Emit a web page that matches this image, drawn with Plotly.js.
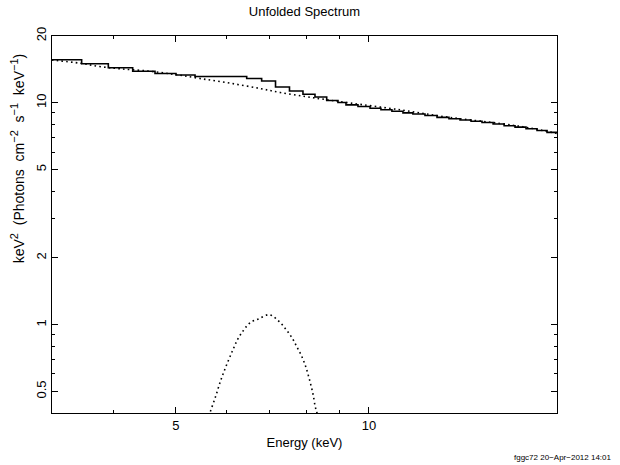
<!DOCTYPE html>
<html>
<head>
<meta charset="utf-8">
<script src="https://cdn.plot.ly/plotly-3.0.1.min.js"></script>
<style>html,body{margin:0;padding:0;background:#fff;}#plot{width:620px;height:465px;}</style>
</head>
<body>
<div id="plot"></div>
<script>
// Data histogram: bin edges (keV) and unfolded values
const dataEdges = [3.203, 3.563, 3.921, 4.280, 4.637, 5.00, 5.354, 5.877, 6.446, 6.802, 7.149, 7.517, 7.890, 8.238, 8.592, 8.947, 9.208, 9.614, 10.04, 10.44, 10.86, 11.30, 11.71, 12.23, 12.77, 13.33, 13.87, 14.43, 15.01, 15.62, 16.25, 16.90, 17.58, 18.29, 18.96, 19.65];
const dataValues = [15.62, 14.99, 14.38, 13.88, 13.55, 13.34, 13.14, 13.14, 12.87, 12.54, 11.78, 11.30, 10.93, 10.62, 10.24, 10.03, 9.79, 9.62, 9.455, 9.30, 9.16, 9.01, 8.90, 8.77, 8.60, 8.47, 8.37, 8.26, 8.15, 8.02, 7.88, 7.77, 7.64, 7.50, 7.36];

// Total model (dotted)
const modelEnergy = [3.20, 3.54, 3.80, 4.09, 4.55, 4.99, 5.45, 6.07, 6.76, 7.27, 7.95, 8.54, 9.34, 11.18, 13.38, 16.01, 17.83, 19.65];
const modelValues = [15.59, 15.08, 14.57, 14.23, 13.88, 13.41, 12.87, 12.26, 11.60, 11.13, 10.68, 10.35, 9.98, 9.30, 8.59, 8.07, 7.70, 7.27];

// Gaussian line component (dotted)
const lineEnergy = [5.60, 5.650, 5.766, 5.870, 5.998, 6.136, 6.240, 6.376, 6.538, 6.737, 6.991, 7.238, 7.422, 7.584, 7.712, 7.843, 7.957, 8.043, 8.120, 8.188, 8.247, 8.288, 8.33];
const lineValues = [0.37, 0.4015, 0.4754, 0.5593, 0.6601, 0.7717, 0.8586, 0.9458, 1.024, 1.064, 1.109, 1.035, 0.9524, 0.8737, 0.7985, 0.7273, 0.6556, 0.5909, 0.5327, 0.4803, 0.4256, 0.4069, 0.37];

const xMajor = [5, 10];
const xMajorText = ['5', '10'];
const xMinor = [4, 6, 7, 8, 9];
const yMajor = [0.5, 1, 2, 5, 10, 20];
const yMajorText = ['0.5', '1', '2', '5', '10', '20'];
const yMinor = [0.6, 0.7, 0.8, 0.9, 3, 4, 6, 7, 8, 9];

const histY = dataValues.concat([dataValues[dataValues.length - 1]]);
const dotStyle = '1.6px,3.2px';

const traces = [
  {x: dataEdges, y: histY, type: 'scatter', mode: 'lines', line: {shape: 'hv', color: '#000', width: 1.6}, hoverinfo: 'skip'},
  {x: modelEnergy, y: modelValues, type: 'scatter', mode: 'lines', line: {shape: 'spline', color: '#000', width: 1.6, dash: dotStyle}, hoverinfo: 'skip'},
  {x: lineEnergy, y: lineValues, type: 'scatter', mode: 'lines', line: {shape: 'spline', color: '#000', width: 1.6, dash: dotStyle}, hoverinfo: 'skip'}
];

const fontFam = 'Liberation Sans, Arial, sans-serif';
const nb = '\u00A0';
const supS = (t) => '<sup><span style="font-size:11px">' + t + '</span></sup>';
const yTitle = 'keV' + supS('2') + nb + nb + '(Photons' + nb + nb + 'cm' + supS('\u22122') + nb + nb + 's' + supS('\u22121') + nb + nb + 'keV' + supS('\u22121') + ')';

const layout = {
  width: 620, height: 465,
  margin: {l: 52, r: 63, t: 36, b: 52},
  paper_bgcolor: '#fff', plot_bgcolor: '#fff',
  showlegend: false,
  font: {family: fontFam, color: '#000', size: 13},
  title: {text: 'Unfolded Spectrum', x: 0.491, xanchor: 'center', y: 0.975, yanchor: 'middle', font: {family: fontFam, size: 13, color: '#000'}},
  xaxis: {
    type: 'log', range: [Math.log10(3.203), Math.log10(19.65)],
    tickmode: 'array', tickvals: xMajor, ticktext: xMajorText,
    ticks: 'inside', ticklen: 6, tickwidth: 1, tickcolor: '#000',
    minor: {tickmode: 'array', tickvals: xMinor, ticks: 'inside', ticklen: 3, tickwidth: 1, tickcolor: '#000', showgrid: false},
    showline: true, linecolor: '#000', linewidth: 1, mirror: 'allticks',
    showgrid: false, zeroline: false,
    tickfont: {family: fontFam, size: 13, color: '#000'},
    title: {text: 'Energy (keV)', standoff: 6, font: {family: fontFam, size: 13, color: '#000'}}
  },
  yaxis: {
    type: 'log', range: [Math.log10(0.4), Math.log10(20)],
    tickmode: 'array', tickvals: yMajor, ticktext: yMajorText, tickangle: -90,
    ticks: 'inside', ticklen: 6, tickwidth: 1, tickcolor: '#000',
    minor: {tickmode: 'array', tickvals: yMinor, ticks: 'inside', ticklen: 3, tickwidth: 1, tickcolor: '#000', showgrid: false},
    showline: true, linecolor: '#000', linewidth: 1, mirror: 'allticks',
    showgrid: false, zeroline: false,
    tickfont: {family: fontFam, size: 13, color: '#000'}
  },
  annotations: [
    {text: yTitle, textangle: -90,
     xref: 'paper', yref: 'paper', x: -0.069, y: 0.676, xanchor: 'center', yanchor: 'middle', showarrow: false,
     font: {family: fontFam, size: 14, color: '#000'}},
    {text: 'fggc72 20\u2212Apr\u22122012 14:01', xref: 'paper', yref: 'paper', x: 1.113, y: -0.117, xanchor: 'right', yanchor: 'middle', showarrow: false,
     font: {family: fontFam, size: 8, color: '#000'}}
  ]
};

Plotly.newPlot('plot', traces, layout, {displayModeBar: false, staticPlot: true});
</script>
</body>
</html>
